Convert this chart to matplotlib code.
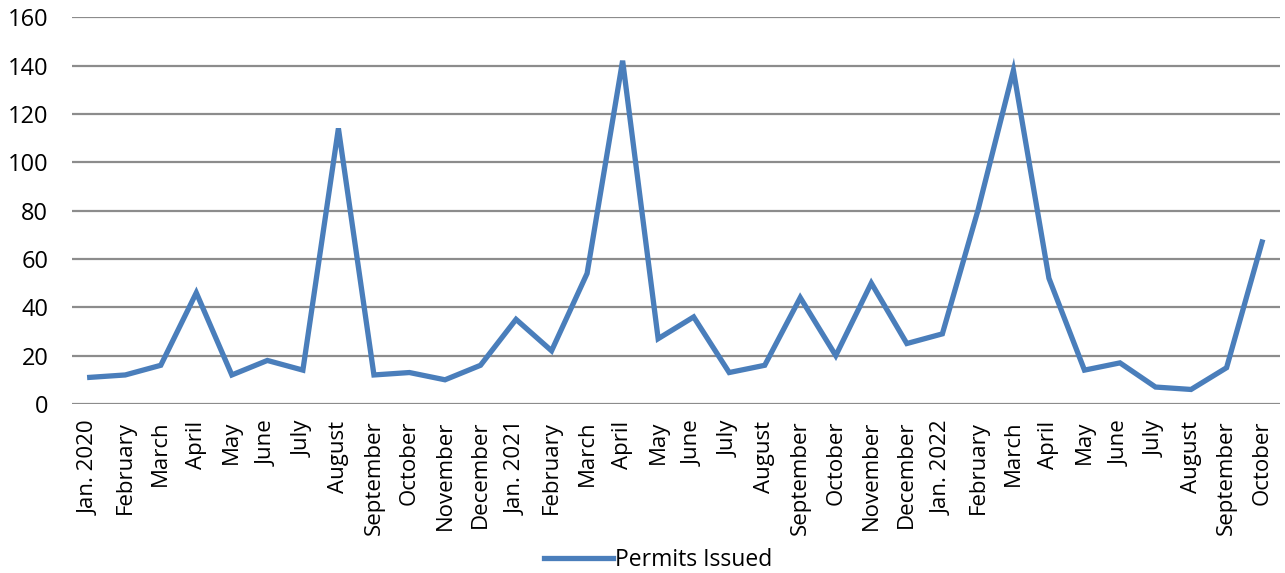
import matplotlib
matplotlib.use("Agg")
import matplotlib.pyplot as plt
import numpy as np

months = ["Jan. 2020", "February", "March", "April", "May", "June", "July",
          "August", "September", "October", "November", "December",
          "Jan. 2021", "February", "March", "April", "May", "June", "July",
          "August", "September", "October", "November", "December",
          "Jan. 2022", "February", "March", "April", "May", "June", "July",
          "August", "September", "October"]
permits = [11, 12, 16, 46, 12, 18, 14, 114, 12, 13, 10, 16,
           35, 22, 54, 142, 27, 36, 13, 16, 44, 20, 50, 25,
           29, 80, 138, 52, 14, 17, 7, 6, 15, 67]

plt.rcParams['font.family'] = ['Open Sans', 'DejaVu Sans']

fig = plt.figure(figsize=(12.85, 5.73), dpi=100)
ax = fig.add_axes([0.056, 0.295, 0.940, 0.675])

x = np.arange(len(months))
ax.plot(x, permits, color="#4A7EBB", linewidth=3.8, solid_joinstyle="miter",
        label="Permits Issued", zorder=3)

ax.set_xlim(-0.5, len(months) - 0.5)
ax.set_ylim(0, 160)
ax.set_yticks(range(0, 161, 20))
ax.set_xticks(x)
ax.set_xticklabels(months, rotation=90, fontsize=16)
ax.tick_params(axis="y", labelsize=17, length=0, pad=17)
ax.tick_params(axis="x", length=0, pad=12)
ax.grid(axis="y", color="#8c8c8c", linewidth=1.6)
ax.set_axisbelow(True)
for s in ax.spines.values():
    s.set_visible(False)

fig.legend(loc="lower center", bbox_to_anchor=(0.512, -0.035), frameon=False,
           fontsize=16.5, handlelength=3.0, handletextpad=0.1)

plt.savefig("out.png", dpi=100)
plt.close()
